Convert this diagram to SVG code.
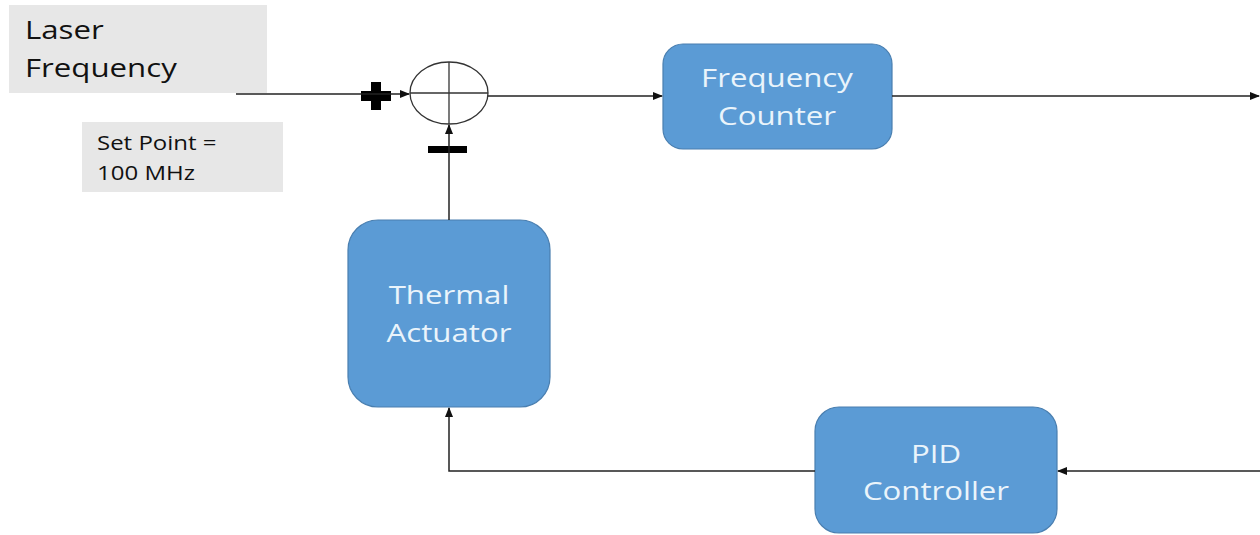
<svg xmlns="http://www.w3.org/2000/svg" width="1260" height="535" viewBox="0 0 1260 535">
<defs>
<marker id="arr" markerWidth="10" markerHeight="8" refX="9" refY="4" orient="auto" markerUnits="userSpaceOnUse">
<path d="M0,0 L10,4 L0,8 Z" fill="#111"/>
</marker>
<style>
.box{fill:#5B9BD5;stroke:#4A7FB0;stroke-width:1.2}
.bt{font-family:"Open Sans","Liberation Sans",sans-serif;font-size:26px;fill:#EAF4FB;text-anchor:middle}
.lbl{fill:#E7E7E7}
.lt{font-family:"Open Sans","Liberation Sans",sans-serif;fill:#111}
.ln{fill:none;stroke:#222;stroke-width:1.5}
</style>
</defs>
<rect width="1260" height="535" fill="#fff"/>
<g id="laser-frequency">
<rect class="lbl" x="9" y="5" width="258" height="88"/>
<text class="lt" font-size="26" transform="translate(25,39) scale(1.2,1)">Laser</text>
<text class="lt" font-size="26" transform="translate(25,77) scale(1.2,1)">Frequency</text>
</g>
<g id="set-point">
<rect class="lbl" x="82" y="122" width="201" height="70"/>
<text class="lt" font-size="20" transform="translate(97,150) scale(1.2,1)">Set Point =</text>
<text class="lt" font-size="20" transform="translate(97,180) scale(1.2,1)">100 MHz</text>
</g>
<g id="summing-junction">
<ellipse cx="449" cy="93" rx="39" ry="31" fill="#fff" stroke="#333" stroke-width="1.3"/>
<line x1="410" y1="93" x2="488" y2="93" stroke="#333" stroke-width="1.3"/>
<line x1="449" y1="62" x2="449" y2="124" stroke="#333" stroke-width="1.3"/>
<path d="M371,82 h10 v9 h10 v10 h-10 v9 h-10 v-9 h-10 v-10 h10 Z" fill="#000"/>
<rect x="428" y="146" width="39" height="7" fill="#000"/>
</g>
<g id="frequency-counter">
<rect class="box" x="663" y="44" width="229" height="105" rx="20"/>
<text class="bt" transform="translate(777,87) scale(1.2,1)">Frequency</text>
<text class="bt" transform="translate(777,125) scale(1.2,1)">Counter</text>
</g>
<g id="thermal-actuator">
<rect class="box" x="348" y="220" width="202" height="187" rx="30"/>
<text class="bt" transform="translate(449,304) scale(1.2,1)">Thermal</text>
<text class="bt" transform="translate(449,342) scale(1.2,1)">Actuator</text>
</g>
<g id="pid-controller">
<rect class="box" x="815" y="407" width="242" height="126" rx="24"/>
<text class="bt" transform="translate(936,463) scale(1.2,1)">PID</text>
<text class="bt" transform="translate(936,500) scale(1.2,1)">Controller</text>
</g>
<g id="connectors">
<path class="ln" d="M236,94 H409" marker-end="url(#arr)"/>
<path class="ln" d="M488,96 H662" marker-end="url(#arr)"/>
<path class="ln" d="M892,96 H1259" marker-end="url(#arr)"/>
<path class="ln" d="M449,220 V125" marker-end="url(#arr)"/>
<path class="ln" d="M1260,471 H1058" marker-end="url(#arr)"/>
<path class="ln" d="M815,471 H449 V408" marker-end="url(#arr)"/>
</g>
</svg>
